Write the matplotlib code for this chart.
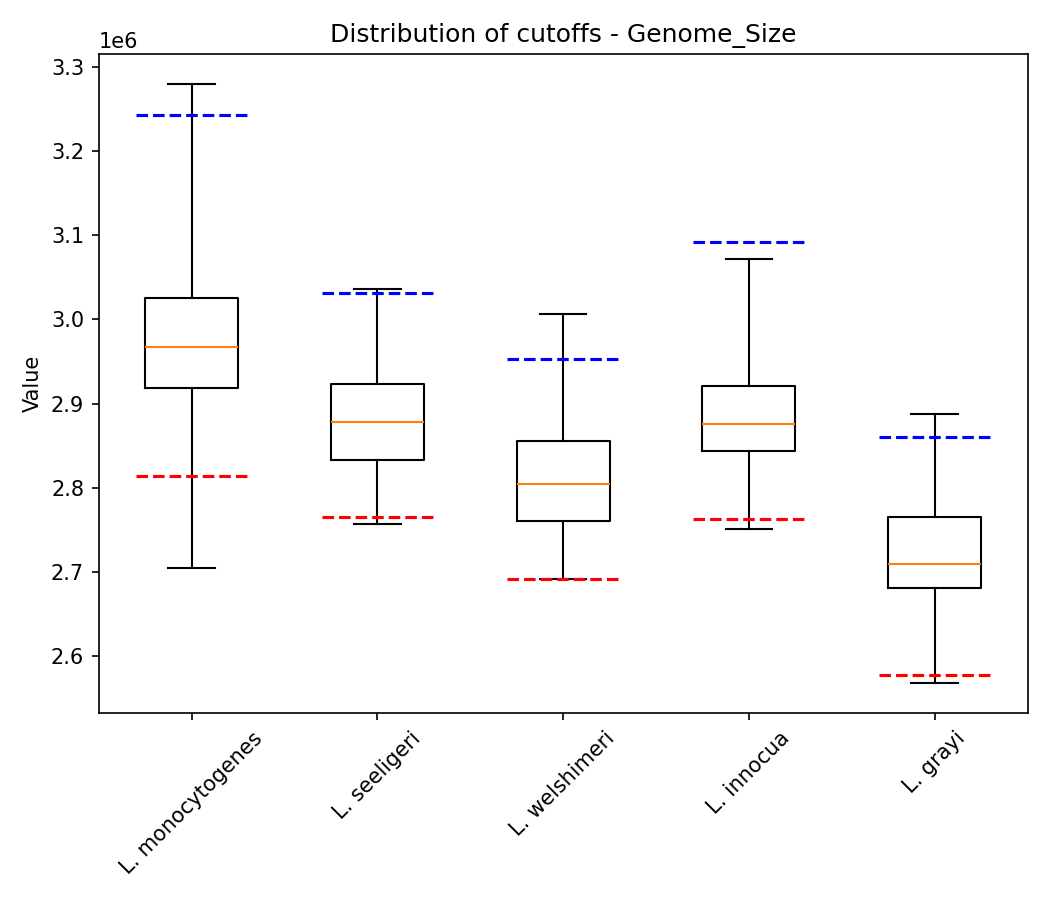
import matplotlib
matplotlib.use("Agg")
import matplotlib.pyplot as plt

species = ["L. monocytogenes", "L. seeligeri", "L. welshimeri", "L. innocua", "L. grayi"]

# box statistics (bp)
whisker_low = [2.705e6, 2.7574e6, 2.6918e6, 2.7515e6, 2.5678e6]
q1 = [2.9184e6, 2.8337e6, 2.7610e6, 2.8433e6, 2.6811e6]
median = [2.9673e6, 2.8779e6, 2.8051e6, 2.8755e6, 2.7097e6]
q3 = [3.0257e6, 2.9232e6, 2.8552e6, 2.9208e6, 2.7658e6]
whisker_high = [3.2797e6, 3.0365e6, 3.0067e6, 3.0722e6, 2.8874e6]

# cutoffs
upper_cutoff = [3.2428e6, 3.0317e6, 2.9530e6, 3.0925e6, 2.8600e6]
lower_cutoff = [2.8147e6, 2.7658e6, 2.6918e6, 2.7634e6, 2.5774e6]

stats = []
for i, name in enumerate(species):
    stats.append({
        "label": name,
        "whislo": whisker_low[i],
        "q1": q1[i],
        "med": median[i],
        "q3": q3[i],
        "whishi": whisker_high[i],
        "fliers": [],
    })

fig, ax = plt.subplots(figsize=(7, 6), dpi=150)
ax.bxp(stats, showfliers=False)

for i in range(len(species)):
    pos = i + 1
    ax.hlines(upper_cutoff[i], pos - 0.3, pos + 0.3, colors="blue", linestyles="dashed", linewidth=1.5)
    ax.hlines(lower_cutoff[i], pos - 0.3, pos + 0.3, colors="red", linestyles="dashed", linewidth=1.5)

ax.set_title("Distribution of cutoffs - Genome_Size")
ax.set_ylabel("Value")
plt.xticks(rotation=45)
plt.tight_layout()
plt.savefig("out.png", dpi=150)
